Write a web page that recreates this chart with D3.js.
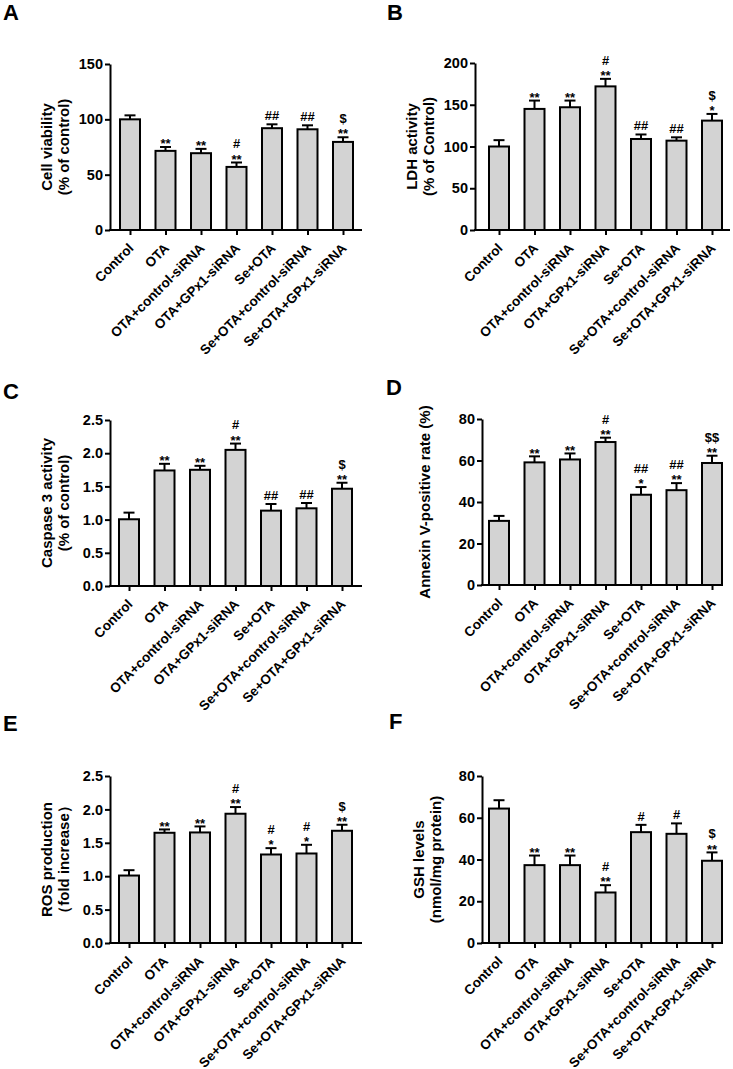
<!DOCTYPE html>
<html><head><meta charset="utf-8">
<script src="https://cdn.jsdelivr.net/npm/d3@7/dist/d3.min.js"></script>
<style>
html,body{margin:0;padding:0;background:#fff;}
svg{display:block;}
text{font-family:"Liberation Sans",Arial,sans-serif;font-weight:bold;fill:#000;}
</style></head>
<body>
<svg id="chart" width="733" height="1069"></svg>
<script>
const categories = ["Control","OTA","OTA+control-siRNA","OTA+GPx1-siRNA","Se+OTA","Se+OTA+control-siRNA","Se+OTA+GPx1-siRNA"];

// A: Cell viability
const viabilityMean = [100, 71.5, 69.4, 57, 92, 91, 79.6];
const viabilityErr  = [3.6, 3.5, 3.9, 4, 3.5, 3.6, 4.2];
const viabilityMarks = [[], ["**"], ["**"], ["**","#"], ["##"], ["##"], ["**","$"]];
const viabilityTicks = [0, 50, 100, 150];

// B: LDH activity
const ldhMean = [100, 145, 147, 172, 109, 107, 131];
const ldhErr  = [7.6, 10, 8, 9, 5.4, 4, 8];
const ldhMarks = [[], ["**"], ["**"], ["**","#"], ["##"], ["##"], ["*","$"]];
const ldhTicks = [0, 50, 100, 150, 200];

// C: Caspase 3 activity
const caspaseMean = [1.005, 1.74, 1.75, 2.05, 1.135, 1.17, 1.465];
const caspaseErr  = [0.1, 0.1, 0.06, 0.095, 0.1, 0.08, 0.09];
const caspaseMarks = [[], ["**"], ["**"], ["**","#"], ["##"], ["##"], ["**","$"]];
const caspaseTicks = [0, 0.5, 1.0, 1.5, 2.0, 2.5];

// D: Annexin V-positive rate
const annexinMean = [30.9, 59.1, 60.5, 68.9, 43.5, 45.7, 58.8];
const annexinErr  = [2.4, 2.9, 2.9, 2.1, 3.7, 3.4, 3.5];
const annexinMarks = [[], ["**"], ["**"], ["**","#"], ["*","##"], ["**","##"], ["**","$$"]];
const annexinTicks = [0, 20, 40, 60, 80];

// E: ROS production
const rosMean = [1.01, 1.65, 1.655, 1.935, 1.325, 1.34, 1.68];
const rosErr  = [0.08, 0.05, 0.09, 0.1, 0.095, 0.13, 0.09];
const rosMarks = [[], ["**"], ["**"], ["**","#"], ["*","#"], ["*","#"], ["**","$"]];
const rosTicks = [0, 0.5, 1.0, 1.5, 2.0, 2.5];

// F: GSH levels
const gshMean = [64.4, 37.3, 37.3, 24.2, 53.1, 52.3, 39.4];
const gshErr  = [4, 4.6, 4.6, 3.5, 3.5, 5, 4];
const gshMarks = [[], ["**"], ["**"], ["**","#"], ["#"], ["#"], ["**","$"]];
const gshTicks = [0, 20, 40, 60, 80];

const panels = [
  {letter:"A", lx:3, ly:20, title:["Cell viability","(% of control)"], mean:viabilityMean, err:viabilityErr, marks:viabilityMarks, ticks:viabilityTicks, fmt:d3.format("d"),
   left:110, right:362, top:64, bottom:230, first:130},
  {letter:"B", lx:387, ly:20, title:["LDH activity","(% of Control)"], mean:ldhMean, err:ldhErr, marks:ldhMarks, ticks:ldhTicks, fmt:d3.format("d"),
   left:475, right:730, top:63, bottom:230, first:499},
  {letter:"C", lx:3, ly:399, title:["Caspase 3 activity","(% of control)"], mean:caspaseMean, err:caspaseErr, marks:caspaseMarks, ticks:caspaseTicks, fmt:d3.format(".1f"),
   left:110, right:362, top:420, bottom:586, first:129},
  {letter:"D", lx:386, ly:395, title:["Annexin V-positive rate (%)"], mean:annexinMean, err:annexinErr, marks:annexinMarks, ticks:annexinTicks, fmt:d3.format("d"),
   left:482, right:722, top:419, bottom:585, first:499},
  {letter:"E", lx:3, ly:731, title:["ROS production","\uFF08fold increase\uFF09"], mean:rosMean, err:rosErr, marks:rosMarks, ticks:rosTicks, fmt:d3.format(".1f"),
   left:110, right:362, top:776, bottom:943, first:129},
  {letter:"F", lx:389, ly:729, title:["GSH levels","(nmol/mg protein)"], mean:gshMean, err:gshErr, marks:gshMarks, ticks:gshTicks, fmt:d3.format("d"),
   left:482, right:722, top:776, bottom:943, first:499}
];

const svg = d3.select("#chart");
const step = 35.5, barW = 20, capW = 11, fs = 15, tickFs = 14.5, xFs = 13.5, markFs = 13;

panels.forEach(p => {
  const g = svg.append("g");
  g.append("text").attr("x", p.lx).attr("y", p.ly).style("font-size", "22px").text(p.letter);

  const y = d3.scaleLinear().domain([0, d3.max(p.ticks)]).range([p.bottom, p.top]);
  const x = d3.scalePoint().domain(categories).range([p.first, p.first + step * (categories.length - 1)]);

  // bars
  g.selectAll("rect.bar").data(p.mean).join("rect")
    .attr("x", (d, i) => x(categories[i]) - barW / 2)
    .attr("y", d => y(d))
    .attr("width", barW)
    .attr("height", d => y(0) - y(d))
    .attr("fill", "#d3d3d3").attr("stroke", "#000").attr("stroke-width", 2);

  // error bars
  p.mean.forEach((m, i) => {
    const cx = x(categories[i]);
    g.append("line").attr("x1", cx).attr("x2", cx).attr("y1", y(m)).attr("y2", y(m + p.err[i]))
      .attr("stroke", "#000").attr("stroke-width", 2);
    g.append("line").attr("x1", cx - capW / 2).attr("x2", cx + capW / 2).attr("y1", y(m + p.err[i])).attr("y2", y(m + p.err[i]))
      .attr("stroke", "#000").attr("stroke-width", 2);
    // significance marks, bottom line first
    let inkBottom = y(m + p.err[i]) - 4;
    p.marks[i].forEach(s => {
      const star = s[0] === "*";
      const base = star ? inkBottom + 0.40 * markFs : inkBottom;
      g.append("text").attr("x", cx).attr("y", base).attr("text-anchor", "middle")
        .style("font-size", markFs + "px").text(s);
      const inkTop = base - 0.72 * markFs;
      inkBottom = inkTop - 6;
    });
  });

  // y axis
  const ya = g.append("g").attr("transform", `translate(${p.left},0)`)
    .call(d3.axisLeft(y).tickValues(p.ticks).tickFormat(p.fmt).tickSize(5).tickSizeOuter(0).tickPadding(2));
  ya.select(".domain").attr("stroke-width", 2);
  ya.selectAll(".tick line").attr("stroke-width", 2);
  ya.selectAll(".tick text").style("font-size", tickFs + "px").style("font-family", "Liberation Sans, Arial, sans-serif").style("font-weight", "bold");

  // x axis
  g.append("line").attr("x1", p.left - 1).attr("x2", p.right).attr("y1", p.bottom).attr("y2", p.bottom)
    .attr("stroke", "#000").attr("stroke-width", 2);
  const xa = g.append("g").attr("transform", `translate(0,${p.bottom})`)
    .call(d3.axisBottom(x).tickSize(5).tickSizeOuter(0));
  xa.select(".domain").remove();
  xa.selectAll(".tick line").attr("stroke-width", 2);
  xa.selectAll(".tick text")
    .attr("text-anchor", "end").attr("dy", null).attr("y", null)
    .attr("transform", "translate(4,19) rotate(-45)")
    .style("font-size", xFs + "px").style("font-family", "Liberation Sans, Arial, sans-serif").style("font-weight", "bold");

  // y title
  const cy = (p.top + p.bottom) / 2;
  const n = p.title.length;
  p.title.forEach((t, k) => {
    const bx = n === 2 ? (k === 0 ? p.left - 58 : p.left - 41) : p.left - 52;
    g.append("text").attr("transform", `translate(${bx},${cy}) rotate(-90)`)
      .attr("text-anchor", "middle").style("font-size", fs + "px").text(t);
  });
});
</script>
</body></html>
